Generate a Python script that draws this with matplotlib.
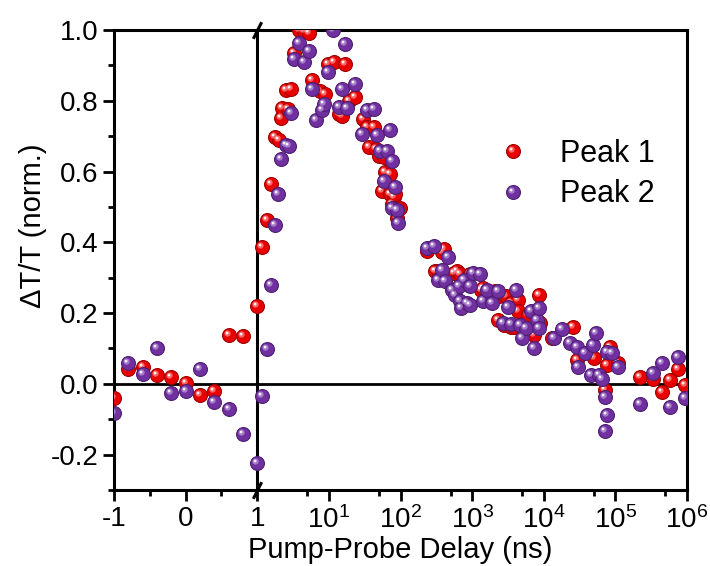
import numpy as np
import matplotlib.pyplot as plt
from matplotlib.path import Path
from matplotlib.legend_handler import HandlerTuple

plt.rcParams['font.family'] = ['Liberation Sans', 'DejaVu Sans']
plt.rcParams['mathtext.fontset'] = 'custom'
plt.rcParams['mathtext.rm'] = 'Liberation Sans'
plt.rcParams['mathtext.it'] = 'Liberation Sans:italic'
plt.rcParams['axes.unicode_minus'] = False

# ---- data ----
peak1_x = [-1, -0.8, -0.6, -0.4, -0.2, 0, 0.2, 0.4, 0.6, 0.8, 1.0,
           1.16, 1.35, 1.55, 1.76, 1.98, 2.14, 2.24, 2.5, 2.72, 2.96, 3.3, 3.83, 4.5, 5.26,
           5.88, 7.6, 8.8, 9.8, 11.7, 13.7, 15.3, 17, 19, 23, 30, 34, 36, 42, 45, 50, 55,
           58, 61, 72, 72, 76, 80, 84, 88, 99,
           232, 300, 335, 375, 400, 550, 610, 680, 940, 1350, 1430, 2060, 2300, 2400,
           2800, 3000, 3500, 3500, 3900, 4300, 4300, 5300, 6000, 7400, 8700, 9000,
           13000, 26000, 29000, 50000, 72000, 77000, 85000, 110000,
           220000, 330000, 450000, 580000, 740000, 950000]
peak1_y = [-0.04, 0.043, 0.048, 0.026, 0.018, 0.001, -0.032, -0.021, 0.138, 0.134, 0.219,
           0.388, 0.463, 0.566, 0.698, 0.689, 0.750, 0.780, 0.830, 0.777, 0.834, 0.934, 1.0, 0.997, 0.992,
           0.86, 0.828, 0.82, 0.905, 0.91, 0.763, 0.758, 0.905, 0.80, 0.81, 0.749, 0.725, 0.668, 0.727, 0.664, 0.645, 0.545,
           0.64, 0.60, 0.593, 0.536, 0.508, 0.527, 0.536, 0.47, 0.498,
           0.375, 0.318, 0.318, 0.372, 0.38, 0.313, 0.318, 0.309, 0.309, 0.266, 0.271, 0.261, 0.181, 0.247,
           0.167, 0.247, 0.228, 0.162, 0.162, 0.238, 0.205, 0.148, 0.195, 0.138, 0.252, 0.171,
           0.129, 0.162, 0.067, 0.072, -0.018, 0.053, 0.105, 0.058,
           0.02, 0.015, -0.023, 0.01, 0.043, -0.004]

peak2_x = [-1, -0.8, -0.6, -0.4, -0.2, 0, 0.2, 0.4, 0.6, 0.8, 1.0,
           1.16, 1.36, 1.55, 1.76, 1.93, 2.14, 2.5, 2.78, 2.96, 3.3, 3.83, 4.5, 5.26, 5.88,
           6.7, 8.0, 8.5, 9.7, 11.5, 13.7, 15.3, 17, 18, 23, 29, 34, 42, 47, 52, 58, 64,
           72, 76, 76, 84, 88, 93,
           232, 290, 335, 375, 420, 460, 520, 570, 650, 680, 700, 780, 850, 940, 940,
           1020, 1300, 1420, 1600, 1880, 2300, 2700, 3150, 3500, 4100, 4600, 5000, 5600,
           6700, 7400, 8000, 8700, 8700, 14000, 18000, 23000, 29000, 30000, 38000, 45000,
           48000, 54000, 60000, 66000, 71000, 72000, 77000, 77000, 90000, 110000,
           220000, 330000, 450000, 580000, 740000, 950000]
peak2_y = [-0.082, 0.058, 0.027, 0.102, -0.026, -0.019, 0.042, -0.051, -0.072, -0.141, -0.224,
           -0.035, 0.099, 0.28, 0.45, 0.536, 0.635, 0.676, 0.673, 0.765, 0.917, 0.962, 0.91, 0.94, 0.834,
           0.746, 0.775, 0.79, 0.88, 1.0, 0.782, 0.834, 0.96, 0.78, 0.848, 0.705, 0.773, 0.778, 0.702, 0.659, 0.574, 0.659,
           0.716, 0.631, 0.498, 0.555, 0.49, 0.455,
           0.384, 0.389, 0.294, 0.323, 0.29, 0.358, 0.266, 0.252, 0.276, 0.233, 0.214, 0.294, 0.228, 0.276, 0.223,
           0.313, 0.309, 0.233, 0.266, 0.228, 0.261, 0.171, 0.216, 0.168, 0.266, 0.165, 0.129, 0.159,
           0.205, 0.10, 0.181, 0.214, 0.157, 0.129, 0.155, 0.114, 0.105, 0.048, 0.086, 0.025,
           0.11, 0.143, 0.025, 0.015, -0.037, -0.134, -0.089, 0.091, 0.086, 0.048,
           -0.056, 0.03, 0.06, -0.065, 0.075, -0.04]

x_ticks = [-1, 0, 1, 1e1, 1e2, 1e3, 1e4, 1e5, 1e6]
x_ticklabels = ['-1', '0', '1', '10$^1$', '10$^2$', '10$^3$', '10$^4$', '10$^5$', '10$^6$']
x_minor = [-0.5, 0.5, 5, 50, 500, 5e3, 5e4, 5e5]
y_ticks = [-0.2, 0.0, 0.2, 0.4, 0.6, 0.8, 1.0]


# linear up to 1, log above 1 (one decade = one linear unit)
def forward(x):
    x = np.asarray(x, dtype=float)
    return np.where(x <= 1, x, 1 + np.log10(np.maximum(x, 1)))


def inverse(t):
    t = np.asarray(t, dtype=float)
    return np.where(t <= 1, t, 10 ** (np.maximum(t, 1) - 1))


def offset_circle(cx, cy, r):
    # circle placed inside a fixed [-1, 1] frame so the marker keeps its offset
    c = Path.circle((cx, cy), r)
    verts = np.vstack([[[-1, -1], [1, 1]], c.vertices])
    codes = np.concatenate([[Path.MOVETO, Path.MOVETO], c.codes])
    return Path(verts, codes)


glow = offset_circle(-0.28, 0.28, 0.45)
spot = offset_circle(-0.35, 0.35, 0.2)


def spheres(ax, x, y, base, edge, light, ms=10, z=3):
    h1, = ax.plot(x, y, 'o', ms=ms, mfc=base, mec=edge, mew=0.8, zorder=z)
    h2, = ax.plot(x, y, ls='none', marker=glow, ms=ms, mfc=light, mec='none',
                  mew=0, alpha=0.75, zorder=z)
    h3, = ax.plot(x, y, ls='none', marker=spot, ms=ms, mfc='white', mec='none',
                  mew=0, alpha=0.9, zorder=z)
    return (h1, h2, h3)


fig = plt.figure(figsize=(7.1, 5.66), dpi=100)
ax = fig.add_axes([0.1606, 0.1343, 0.807, 0.8127])
ax.set_xscale('function', functions=(forward, inverse))
ax.set_xlim(-1, 1e6)
ax.set_ylim(-0.3, 1.0)

ax.axhline(0, color='black', lw=2, zorder=1)
ax.axvline(1, color='black', lw=2.2, zorder=1)

h_red = spheres(ax, peak1_x, peak1_y, '#e80000', '#a00000', '#ff8a8a', z=3)
h_pur = spheres(ax, peak2_x, peak2_y, '#7030a0', '#4e1f72', '#b894d8', z=4)

# axis break marks on top and bottom spines
brk = [(-0.5, -1), (0.5, 1)]
ax.plot([1, 1], ax.get_ylim(), ls='none', marker=brk, ms=12, mec='black',
        mew=2.2, clip_on=False, zorder=6)

ax.set_xticks(x_ticks)
ax.set_xticklabels(x_ticklabels)
ax.set_xticks(x_minor, minor=True)
ax.set_yticks(y_ticks)
ax.set_yticklabels(['%.1f' % v for v in y_ticks])
ax.set_yticks(np.arange(-0.3, 1.01, 0.1), minor=True)

for s in ax.spines.values():
    s.set_linewidth(2.2)
ax.tick_params(which='major', direction='out', length=8, width=2, labelsize=20,
               top=False, right=False)
ax.tick_params(which='minor', direction='out', length=4, width=2,
               top=False, right=False)

ax.set_xlabel('Pump-Probe Delay (ns)', fontsize=21)
ax.set_ylabel('\u0394T/T (norm.)', fontsize=21)
ax.xaxis.set_label_coords(0.5, -0.1)
ax.yaxis.set_label_coords(-0.117, 0.575)

ax.legend([h_red, h_pur], ['Peak 1', 'Peak 2'],
          handler_map={tuple: HandlerTuple(ndivide=1)},
          loc='center left', bbox_to_anchor=(0.672, 0.687), frameon=False,
          fontsize=22, handlelength=0.9, handletextpad=1.1, labelspacing=0.35,
          borderpad=0, borderaxespad=0)

fig.savefig('out.png', dpi=100)
